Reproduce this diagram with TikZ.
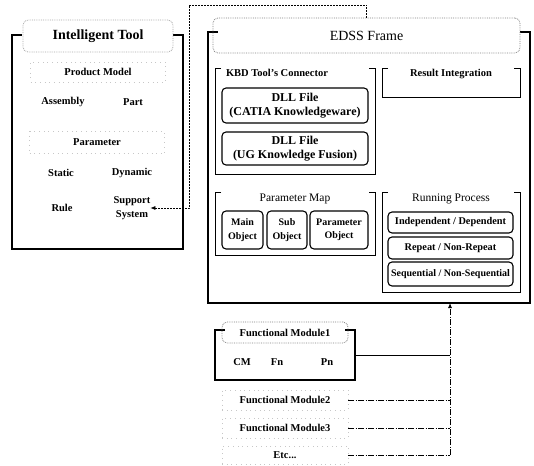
\documentclass[tikz,border=0pt]{standalone}
\usepackage{fontspec}
\setmainfont{Liberation Serif}
\usetikzlibrary{arrows.meta, positioning}

\begin{document}
\begin{tikzpicture}[
    x=1pt, y=-1pt,
    every node/.style={font=\bfseries\fontsize{10.5}{13.5}\selectfont, inner sep=0pt, outer sep=0pt, align=center},
    frame_area/.style={rectangle},
    heavy_rule/.style={line width=2.8pt, line cap=rect},
    panel_rule/.style={line width=0.9pt},
    round_box/.style={draw, rounded corners=4pt, line width=1.1pt},
    title_box/.style={draw=black!50, densely dotted, rounded corners=5pt, line width=0.8pt},
    faint_box/.style={draw=black!22, loosely dotted, line width=0.7pt},
    link_line/.style={line width=0.7pt, dash pattern=on 2pt off 1pt},
    bus_line/.style={line width=0.8pt, dash pattern=on 6pt off 1.5pt on 1pt off 1.5pt},
    arrow/.style={-{Latex[length=5pt, width=4pt]}}
]
\useasboundingbox (0,0) rectangle (534,465);

% outer frames
\node[frame_area, minimum width=171pt, minimum height=214pt] (tool) at (97.5,142) {};
\node[frame_area, minimum width=322pt, minimum height=271pt] (edss) at (369,167.5) {};
\node[frame_area, minimum width=140pt, minimum height=50pt] (fm1) at (285,355) {};

% inner panels
\node[frame_area, minimum width=160pt, minimum height=106pt] (kbd) at (295,121) {};
\node[frame_area, minimum width=138pt, minimum height=29pt] (result) at (451,82.5) {};
\node[frame_area, minimum width=160pt, minimum height=63pt] (pmap) at (295,223.5) {};
\node[frame_area, minimum width=138pt, minimum height=100pt] (running) at (451,242) {};

\foreach \f in {tool, edss, fm1}
    \draw[heavy_rule] ([xshift=9pt]\f.north west) -- (\f.north west) -- (\f.south west)
        -- (\f.south east) -- (\f.north east) -- ([xshift=-9pt]\f.north east);
\foreach \f in {kbd, result, pmap, running}
    \draw[panel_rule] ([xshift=6pt]\f.north west) -- (\f.north west) -- (\f.south west)
        -- (\f.south east) -- (\f.north east) -- ([xshift=-6pt]\f.north east);

% Intelligent Tool
\node[title_box, draw=black!35, minimum width=150pt, minimum height=32pt, font=\bfseries\fontsize{14}{16}\selectfont] (tool_title) at (98,36) {Intelligent Tool};
\node[faint_box, minimum width=135pt, minimum height=20pt] (product) at (98,72) {Product Model};
\node (assembly) at (63,102) {Assembly};
\node (part) at (133,102) {Part};
\node[faint_box, minimum width=135pt, minimum height=22pt] (parameter) at (97,142.5) {Parameter};
\node (static) at (61,173) {Static};
\node (dynamic) at (132,173) {Dynamic};
\node (rule) at (62,208) {Rule};
\node (support) at (132,208) {Support\\System};

% EDSS Frame
\node[title_box, minimum width=307pt, minimum height=35pt, font=\fontsize{14}{16}\selectfont] (edss_title) at (366.5,35.5) {EDSS Frame};

\node[below=1.5pt of kbd.north, xshift=-18pt] (kbd_title) {KBD Tool's Connector};
\node[round_box, minimum width=146pt, minimum height=35pt, font=\bfseries\fontsize{12}{14.5}\selectfont] (dll_catia) at (295,105.5) {DLL File\\(CATIA Knowledgeware)};
\node[round_box, minimum width=146pt, minimum height=33pt, font=\bfseries\fontsize{12}{14.5}\selectfont, below=9pt of dll_catia] (dll_ug) {DLL File\\(UG Knowledge Fusion)};

\node[below=1.5pt of result.north] (result_title) {Result Integration};

\node[below=1.5pt of pmap.north, font=\fontsize{11.5}{13}\selectfont] (pmap_title) {Parameter Map};
\node[round_box, minimum width=41pt, minimum height=38pt, font=\bfseries\fontsize{10}{13.5}\selectfont] (main_obj) at (242.5,230) {Main\\Object};
\node[round_box, minimum width=40pt, minimum height=38pt, font=\bfseries\fontsize{10}{13.5}\selectfont, right=4pt of main_obj] (sub_obj) {Sub\\Object};
\node[round_box, minimum width=58pt, minimum height=38pt, font=\bfseries\fontsize{10}{13.5}\selectfont, right=3pt of sub_obj] (param_obj) {Parameter\\Object};

\node[below=1.5pt of running.north, font=\fontsize{11.5}{13}\selectfont] (running_title) {Running Process};
\node[round_box, minimum width=125pt, minimum height=21pt, font=\bfseries\fontsize{10.3}{12}\selectfont] (indep) at (450.5,222.5) {Independent / Dependent};
\node[round_box, minimum width=125pt, minimum height=22pt, font=\bfseries\fontsize{10.3}{12}\selectfont, below=4pt of indep] (repeat) {Repeat / Non-Repeat};
\node[round_box, minimum width=125pt, minimum height=24pt, font=\bfseries\fontsize{10}{12}\selectfont, below=3pt of repeat] (sequential) {Sequential / Non-Sequential};

% Functional modules
\node[title_box, minimum width=126pt, minimum height=21pt] (fm1_title) at (285,332.5) {Functional Module1};
\node (cm) at (242,362) {CM};
\node (fn) at (277,362) {Fn};
\node (pn) at (327,362) {Pn};
\node[faint_box, minimum width=126pt, minimum height=20pt] (fm2) at (285,400) {Functional Module2};
\node[faint_box, minimum width=126pt, minimum height=20pt] (fm3) at (285,428) {Functional Module3};
\node[faint_box, minimum width=126pt, minimum height=18pt] (etc) at (285,455) {Etc...};

% connectors
\coordinate (link_corner) at (189,5);
\coordinate (bus_end) at (450,455);
\draw[link_line, arrow] (edss_title.north) |- (link_corner) |- (support.east);
\draw[bus_line, arrow] (bus_end) -- (bus_end |- edss.south);
\draw[line width=0.9pt] (fm1.east) -- (fm1.east -| bus_end);
\draw[bus_line] (fm2.east) -- (fm2.east -| bus_end);
\draw[bus_line] (fm3.east) -- (fm3.east -| bus_end);
\draw[bus_line] (etc.east) -- (etc.east -| bus_end);

\end{tikzpicture}
\end{document}
